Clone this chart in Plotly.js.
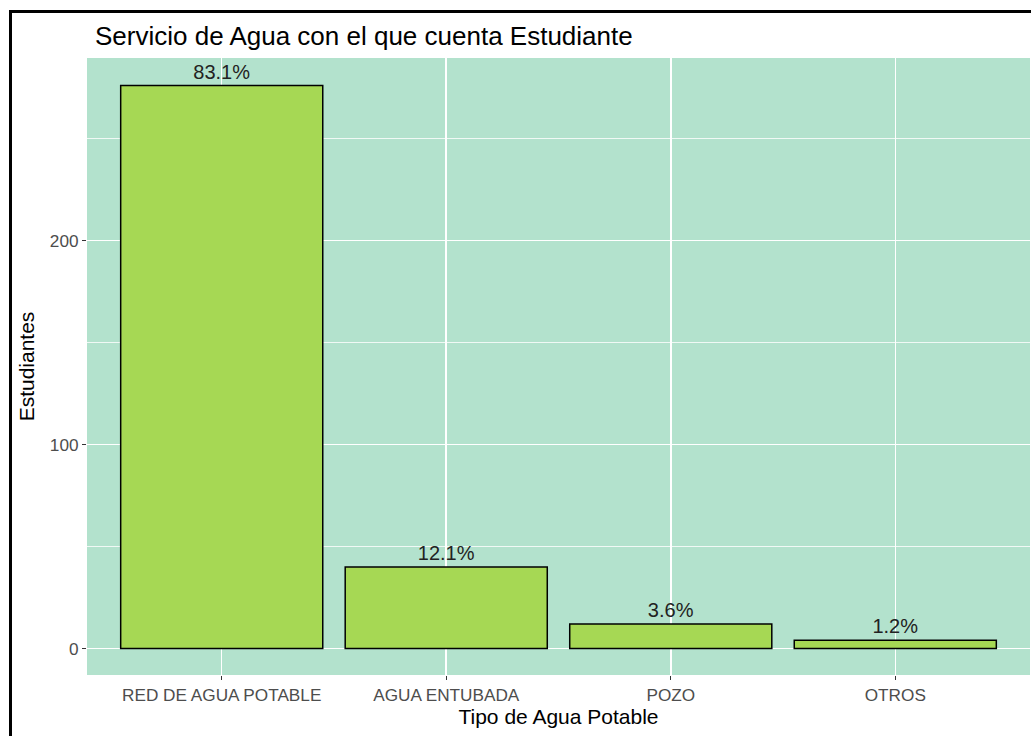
<!DOCTYPE html>
<html><head><meta charset="utf-8">
<script src="https://cdn.plot.ly/plotly-3.0.1.min.js"></script>
<style>
html,body{margin:0;padding:0;background:#fff;}
#chart{width:1031px;height:736px;}
#frame{position:absolute;left:9px;top:10px;width:1040px;height:740px;border-left:3px solid #000;border-top:3px solid #000;pointer-events:none;}
</style></head>
<body>
<div id="chart"></div>
<div id="frame"></div>
<script>
const categories = ["RED DE AGUA POTABLE", "AGUA ENTUBADA", "POZO", "OTROS"];
const estudiantes = [276, 40, 12, 4];
const labels = ["83.1%", "12.1%", "3.6%", "1.2%"];

const trace = {
  type: 'bar',
  x: categories,
  y: estudiantes,
  text: labels,
  textposition: 'outside',
  textfont: {family: 'Liberation Sans, Arial, sans-serif', size: 20, color: '#222'},
  cliponaxis: false,
  marker: {color: '#A6D854', line: {color: '#000', width: 1.5}},
  width: 0.9,
  hoverinfo: 'none'
};

const layout = {
  width: 1031, height: 736,
  margin: {l: 87, r: 1, t: 58, b: 61},
  paper_bgcolor: '#fff',
  plot_bgcolor: '#B3E2CD',
  font: {family: 'Liberation Sans, Arial, sans-serif'},
  showlegend: false,
  title: {
    text: 'Servicio de Agua con el que cuenta Estudiante',
    font: {size: 26, color: '#000'},
    x: 95/1031, xanchor: 'left', xref: 'container',
    y: 1 - 36/736, yanchor: 'middle', yref: 'container'
  },
  xaxis: {
    type: 'category',
    range: [-0.6, 3.6],
    showgrid: true, gridcolor: '#fff', gridwidth: 1.5,
    ticks: 'outside', ticklen: 4, tickcolor: '#333', tickwidth: 1.2,
    tickfont: {size: 17.2, color: '#4D4D4D'},
    showline: false, zeroline: false,
    title: {text: 'Tipo de Agua Potable', font: {size: 21, color: '#000'}, standoff: 5}
  },
  yaxis: {
    range: [-13, 289.5],
    dtick: 100, tick0: 0,
    showgrid: true, gridcolor: '#fff', gridwidth: 1.5,
    minor: {dtick: 50, tick0: 0, showgrid: true, gridcolor: '#fff', gridwidth: 0.8, ticks: ''},
    ticks: 'outside', ticklen: 4, tickcolor: '#333', tickwidth: 1.2,
    tickfont: {size: 17.2, color: '#4D4D4D'},
    showline: false, zeroline: false,
    title: {text: 'Estudiantes', font: {size: 21, color: '#000'}, standoff: 9}
  }
};

Plotly.newPlot('chart', [trace], layout, {displayModeBar: false, staticPlot: true});
</script>
</body></html>
